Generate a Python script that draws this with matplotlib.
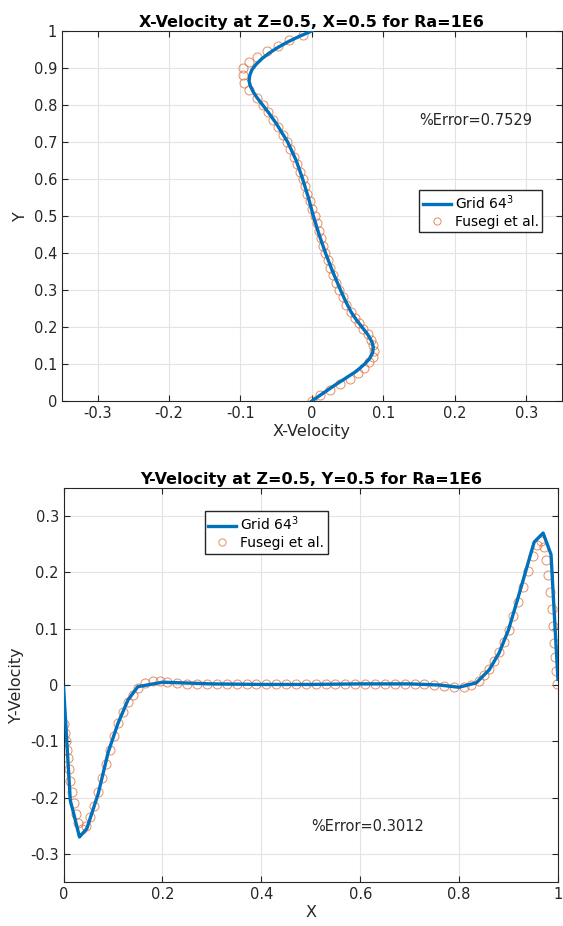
import matplotlib
matplotlib.use("Agg")
import matplotlib.pyplot as plt
from matplotlib.ticker import FuncFormatter

plt.rcParams['font.family'] = ['DejaVu Sans']
plt.rcParams['axes.unicode_minus'] = False

# --- top plot: X-velocity along Y (line = Grid 64^3, circles = Fusegi et al.)
top_y_line = [0.0, 0.02, 0.04, 0.06, 0.08, 0.10, 0.115, 0.13, 0.145, 0.16, 0.18, 0.20,
              0.22, 0.24, 0.27, 0.30, 0.35, 0.40, 0.45, 0.50, 0.55, 0.60, 0.65, 0.70,
              0.75, 0.78, 0.80, 0.82, 0.835, 0.85, 0.865, 0.88, 0.895, 0.91, 0.925, 0.94,
              0.955, 0.97, 0.985, 1.0]
top_u_line = [0.0, 0.015, 0.03, 0.046, 0.062, 0.074, 0.081, 0.085, 0.086, 0.084, 0.078, 0.070,
              0.062, 0.055, 0.047, 0.040, 0.029, 0.019, 0.010, 0.002, -0.005, -0.013, -0.022, -0.034,
              -0.05, -0.061, -0.069, -0.077, -0.082, -0.086, -0.088, -0.087, -0.084, -0.078, -0.07, -0.06,
              -0.048, -0.034, -0.018, 0.0]

top_y_ref = [0.0, 0.015, 0.03, 0.045, 0.06, 0.075, 0.09, 0.105, 0.12, 0.135, 0.15, 0.165,
             0.18, 0.195, 0.21, 0.225, 0.24, 0.26, 0.28, 0.30, 0.32, 0.34, 0.36, 0.38,
             0.40, 0.42, 0.44, 0.46, 0.48, 0.50, 0.52, 0.54, 0.56, 0.58, 0.60, 0.62,
             0.64, 0.66, 0.68, 0.70, 0.72, 0.74, 0.76, 0.78, 0.80, 0.82, 0.84, 0.86,
             0.88, 0.90, 0.915, 0.93, 0.945, 0.96, 0.975, 0.99]
top_u_ref = [0.0, 0.012, 0.026, 0.04, 0.053, 0.064, 0.073, 0.08, 0.085, 0.087, 0.086, 0.083,
             0.078, 0.072, 0.066, 0.06, 0.055, 0.048, 0.043, 0.038, 0.034, 0.03, 0.026, 0.022,
             0.019, 0.016, 0.013, 0.01, 0.007, 0.004, 0.0, -0.003, -0.007, -0.01, -0.013, -0.017,
             -0.021, -0.025, -0.03, -0.035, -0.041, -0.047, -0.054, -0.061, -0.068, -0.077, -0.088, -0.095,
             -0.097, -0.096, -0.088, -0.077, -0.063, -0.048, -0.032, -0.012]

# --- bottom plot: Y-velocity along X
bot_x_line = [0.0, 0.0135, 0.02, 0.032, 0.047, 0.07, 0.09, 0.11, 0.13, 0.15, 0.2, 0.3,
              0.4, 0.5, 0.6, 0.7, 0.76, 0.8, 0.835, 0.861, 0.881, 0.90, 0.92, 0.94,
              0.952, 0.97, 0.986, 1.0]
bot_v_line = [-0.005, -0.205, -0.227, -0.27, -0.255, -0.193, -0.12, -0.068, -0.027, -0.003, 0.005, 0.002,
              0.001, 0.001, 0.002, 0.002, 0.0, -0.004, 0.004, 0.027, 0.057, 0.098, 0.157, 0.218,
              0.254, 0.27, 0.232, 0.01]

bot_x_ref = [0.0, 0.002, 0.004, 0.006, 0.008, 0.01, 0.013, 0.016, 0.02, 0.025, 0.03, 0.038,
             0.046, 0.054, 0.062, 0.07, 0.078, 0.086, 0.094, 0.102, 0.11, 0.12, 0.13, 0.14,
             0.15, 0.165, 0.18, 0.195, 0.21, 0.23, 0.25, 0.27, 0.29, 0.31, 0.33, 0.35,
             0.37, 0.39, 0.41, 0.43, 0.45, 0.47, 0.49, 0.51, 0.53, 0.55, 0.57, 0.59,
             0.61, 0.63, 0.65, 0.67, 0.69, 0.71, 0.73, 0.75, 0.77, 0.79, 0.81, 0.825,
             0.84, 0.85, 0.86, 0.87, 0.88, 0.89, 0.90, 0.91, 0.92, 0.93, 0.94, 0.95,
             0.958, 0.965, 0.971, 0.976, 0.98, 0.984, 0.987, 0.99, 0.992, 0.994, 0.996, 0.998]
bot_v_ref = [-0.07, -0.085, -0.1, -0.115, -0.13, -0.15, -0.17, -0.19, -0.21, -0.23, -0.245, -0.255,
             -0.25, -0.235, -0.215, -0.19, -0.165, -0.14, -0.115, -0.09, -0.068, -0.048, -0.03, -0.017,
             -0.006, 0.003, 0.007, 0.008, 0.006, 0.003, 0.002, 0.001, 0.001, 0.001, 0.001, 0.001,
             0.001, 0.001, 0.001, 0.001, 0.001, 0.001, 0.001, 0.001, 0.001, 0.001, 0.001, 0.001,
             0.001, 0.001, 0.001, 0.001, 0.001, 0.001, 0.001, 0.0, -0.001, -0.003, -0.003, 0.0,
             0.008, 0.017, 0.028, 0.042, 0.058, 0.077, 0.098, 0.122, 0.148, 0.175, 0.203, 0.23,
             0.248, 0.255, 0.245, 0.222, 0.195, 0.165, 0.135, 0.105, 0.075, 0.05, 0.025, 0.002]

BLUE = '#0072BD'
ORANGE = '#E0703F'
fmt = FuncFormatter(lambda v, p: '%g' % round(v, 3))


def style(ax):
    ax.grid(True, color='#e3e3e3', linewidth=0.8)
    ax.set_axisbelow(True)
    ax.tick_params(direction='in', top=True, right=True, colors='#262626', labelsize=10.5,
                   length=4)
    for s in ax.spines.values():
        s.set_color('#262626')
        s.set_linewidth(0.8)
    ax.xaxis.set_major_formatter(fmt)
    ax.yaxis.set_major_formatter(fmt)


fig = plt.figure(figsize=(5.63, 9.26), dpi=100)

ax1 = fig.add_axes([0.110, 0.567, 0.888, 0.3996])
ax1.plot(top_u_line, top_y_line, color=BLUE, lw=2.4, label='Grid 64$^3$', zorder=3)
ax1.plot(top_u_ref, top_y_ref, 'o', mfc='none', mec=ORANGE, mew=0.7, ms=6.5,
         alpha=0.8, label='Fusegi et al.', zorder=2)
ax1.set_xlim(-0.35, 0.35)
ax1.set_ylim(0, 1)
ax1.set_xticks([-0.3, -0.2, -0.1, 0, 0.1, 0.2, 0.3])
ax1.set_yticks([0, 0.1, 0.2, 0.3, 0.4, 0.5, 0.6, 0.7, 0.8, 0.9, 1.0])
style(ax1)
ax1.set_title('X-Velocity at Z=0.5, X=0.5 for Ra=1E6', fontsize=11.5, fontweight='bold', pad=3)
ax1.set_xlabel('X-Velocity', fontsize=11.5, color='#262626', labelpad=2)
ax1.set_ylabel('Y', fontsize=11.5, color='#262626', labelpad=4)
ax1.text(0.15, 0.745, '%Error=0.7529', fontsize=10.5, color='#262626')
ax1.legend(loc='center', bbox_to_anchor=(0.838, 0.513), fontsize=10, frameon=True,
           fancybox=False, edgecolor='#262626', framealpha=1, handlelength=2.0,
           borderpad=0.25, labelspacing=0.2, handletextpad=0.3, borderaxespad=0.0,
           markerscale=0.8)

ax2 = fig.add_axes([0.113, 0.0475, 0.878, 0.4255])
ax2.plot(bot_x_line, bot_v_line, color=BLUE, lw=2.4, label='Grid 64$^3$', zorder=3)
ax2.plot(bot_x_ref, bot_v_ref, 'o', mfc='none', mec=ORANGE, mew=0.7, ms=6.5,
         alpha=0.8, label='Fusegi et al.', zorder=2)
ax2.set_xlim(0, 1)
ax2.set_ylim(-0.35, 0.35)
ax2.set_xticks([0, 0.2, 0.4, 0.6, 0.8, 1.0])
ax2.set_yticks([-0.3, -0.2, -0.1, 0, 0.1, 0.2, 0.3])
style(ax2)
ax2.set_title('Y-Velocity at Z=0.5, Y=0.5 for Ra=1E6', fontsize=11.5, fontweight='bold', pad=3)
ax2.set_xlabel('X', fontsize=11.5, color='#262626', labelpad=2)
ax2.set_ylabel('Y-Velocity', fontsize=11.5, color='#262626', labelpad=4)
ax2.text(0.5, -0.26, '%Error=0.3012', fontsize=10.5, color='#262626')
ax2.legend(loc='center', bbox_to_anchor=(0.41, 0.887), fontsize=10, frameon=True,
           fancybox=False, edgecolor='#262626', framealpha=1, handlelength=2.0,
           borderpad=0.25, labelspacing=0.2, handletextpad=0.3, borderaxespad=0.0,
           markerscale=0.8)

fig.savefig('out.png', dpi=100)
